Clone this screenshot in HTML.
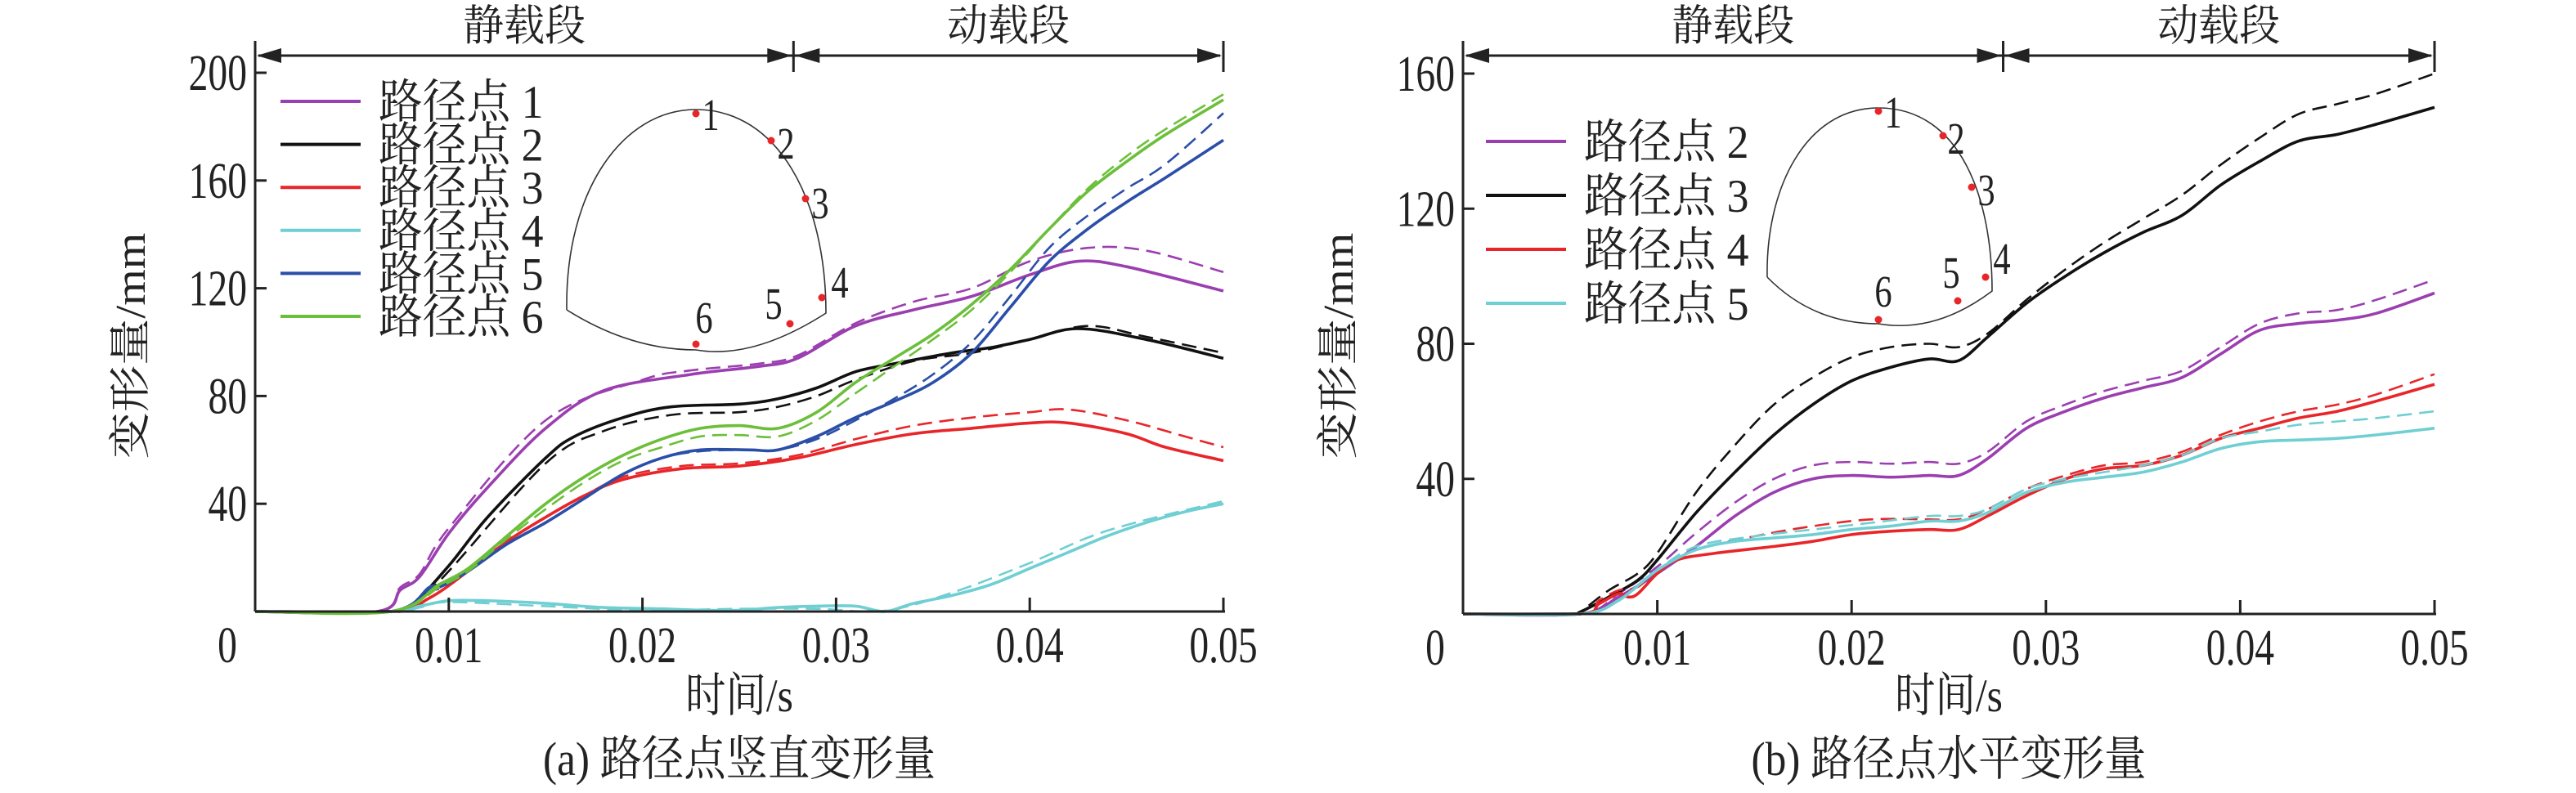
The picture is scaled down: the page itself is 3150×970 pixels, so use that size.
<!DOCTYPE html>
<html><head><meta charset="utf-8"><style>
html,body{margin:0;padding:0;background:#fff;}
svg{display:block;}
text{font-family:"Liberation Serif","Noto Serif CJK SC","Noto Sans CJK SC",serif;fill:#222;}
</style></head><body>
<svg id="chart" width="3150" height="970" viewBox="0 0 3150 970" xmlns="http://www.w3.org/2000/svg"></svg>
<script>
// ---------- data: left panel (vertical deformation) ----------
const xTicks = [0, 0.01, 0.02, 0.03, 0.04, 0.05];
const xTickLabels = ["0", "0.01", "0.02", "0.03", "0.04", "0.05"];
const yTicksA = [40, 80, 120, 160, 200];
const yTicksB = [40, 80, 120, 160];
const legendA = ["路径点 1","路径点 2","路径点 3","路径点 4","路径点 5","路径点 6"];
const legendB = ["路径点 2","路径点 3","路径点 4","路径点 5"];

const a1Solid = [[0,0],[0.0063,0],[0.0075,8],[0.0085,13],[0.01,29],[0.012,46],[0.015,68],[0.018,82],[0.0225,88],[0.026,91],[0.028,94],[0.031,106],[0.034,112],[0.037,117],[0.04,125],[0.0425,130],[0.045,128],[0.05,119]];
const a1Dash  = [[0,0],[0.0063,0],[0.0075,9],[0.0085,14],[0.01,31],[0.015,71],[0.02,86],[0.0225,89.5],[0.026,92],[0.028,95],[0.031,107],[0.034,115],[0.037,120],[0.04,130],[0.043,135],[0.046,134],[0.05,126]];
const a2Solid = [[0,0],[0.0065,0],[0.008,2],[0.01,17],[0.012,35],[0.015,57],[0.0165,65],[0.019,72],[0.0215,76],[0.025,77],[0.027,79],[0.029,83],[0.031,89],[0.033,92],[0.036,96],[0.038,98],[0.04,101],[0.0425,105],[0.046,101],[0.05,94]];
const a2Dash  = [[0,0],[0.0065,0],[0.008,1.5],[0.01,15],[0.015,55],[0.018,67],[0.0215,73],[0.025,74],[0.027,76],[0.029,80],[0.031,86],[0.034,93],[0.037,96],[0.04,101],[0.043,106],[0.046,102],[0.05,96]];
const a3Solid = [[0,0],[0.007,0],[0.009,5],[0.011,15],[0.013,26],[0.015,35],[0.017,43],[0.019,49],[0.022,53],[0.025,54],[0.028,57],[0.031,62],[0.034,66],[0.037,68],[0.04,70],[0.042,70],[0.045,66],[0.047,61],[0.05,56]];
const a3Dash  = [[0,0],[0.007,0],[0.009,5],[0.011,15],[0.013,26],[0.015,35],[0.017,43],[0.019,50],[0.022,54],[0.025,55],[0.028,58],[0.031,64],[0.034,69],[0.037,72],[0.04,74],[0.042,75],[0.045,71],[0.048,65],[0.05,61]];
const a4Solid = [[0,0],[0.007,0],[0.0085,2],[0.01,4],[0.012,4],[0.015,3],[0.018,1.5],[0.021,1],[0.023,0.5],[0.025,0.5],[0.027,1.5],[0.029,2],[0.031,2],[0.0325,0],[0.034,3],[0.036,6],[0.038,10],[0.04,16],[0.042,22],[0.044,28],[0.046,33],[0.048,37],[0.05,40]];
const a4Dash  = [[0,0],[0.007,0],[0.0085,1.5],[0.01,3.5],[0.015,2],[0.02,0.5],[0.025,1],[0.029,1],[0.0325,0.3],[0.036,7],[0.04,18],[0.044,30],[0.05,41]];
const a5Solid = [[0,0],[0.007,0],[0.009,9],[0.0095,9],[0.011,15],[0.013,25],[0.015,33],[0.017,42],[0.019,51],[0.021,57],[0.023,60],[0.0255,60],[0.027,60],[0.029,65],[0.031,72],[0.033,78],[0.035,85],[0.037,96],[0.039,113],[0.041,130],[0.043,142],[0.045,152],[0.047,161],[0.05,175]];
const a5Dash  = [[0,0],[0.007,0],[0.009,8],[0.0095,8.5],[0.011,15],[0.013,25],[0.015,33],[0.017,42],[0.019,51],[0.021,57],[0.023,59.5],[0.0255,60],[0.027,60],[0.029,64],[0.031,71],[0.033,79],[0.035,88],[0.037,100],[0.039,117],[0.041,135],[0.043,147],[0.045,157],[0.047,166],[0.05,185]];
const a6Solid = [[0,0],[0.007,0],[0.0095,10],[0.011,16],[0.013,28],[0.015,40],[0.017,50],[0.019,58],[0.021,64],[0.023,68],[0.025,69],[0.027,68],[0.029,74],[0.031,85],[0.033,94],[0.035,103],[0.037,114],[0.039,127],[0.041,142],[0.043,156],[0.045,167],[0.047,177],[0.05,190]];
const a6Dash  = [[0,0],[0.007,0],[0.0095,9],[0.011,15],[0.013,27],[0.015,38],[0.017,48],[0.019,56],[0.021,61],[0.023,65],[0.025,65.5],[0.027,65],[0.029,71],[0.031,81],[0.033,91],[0.035,101],[0.037,112],[0.039,126],[0.041,142],[0.043,157],[0.045,169],[0.047,179],[0.05,192]];

// ---------- data: right panel (horizontal deformation) ----------
const b2Solid = [[0,0],[0.006,0],[0.008,5],[0.01,12],[0.012,20],[0.014,29],[0.016,36],[0.018,40],[0.02,41],[0.022,40.5],[0.024,41],[0.0255,41],[0.027,46],[0.029,55],[0.031,60],[0.033,64],[0.035,67],[0.037,70],[0.039,77],[0.041,84],[0.043,86],[0.045,87],[0.047,89],[0.05,95]];
const b2Dash  = [[0,0],[0.006,0],[0.008,6],[0.01,14],[0.012,24],[0.014,33],[0.016,40],[0.018,44],[0.02,45],[0.022,44.5],[0.024,45],[0.0255,44.5],[0.027,48],[0.029,57],[0.031,62],[0.033,66],[0.035,69],[0.037,72],[0.039,79],[0.041,86],[0.043,89],[0.045,90],[0.047,93],[0.05,99]];
const b3Solid = [[0,0],[0.0055,0],[0.006,0.5],[0.0075,5],[0.009,10],[0.01,16],[0.012,30],[0.014,42],[0.016,53],[0.018,62],[0.02,69],[0.022,73],[0.024,75.5],[0.0255,75],[0.027,82],[0.029,92],[0.031,100],[0.033,107],[0.035,113],[0.037,118],[0.039,127],[0.041,134],[0.043,140],[0.045,142],[0.047,145],[0.05,150]];
const b3Dash  = [[0,0],[0.0055,0],[0.006,0.5],[0.0075,7],[0.009,12],[0.01,18],[0.012,36],[0.014,50],[0.016,62],[0.018,70],[0.02,76],[0.022,79],[0.024,80],[0.0255,79],[0.027,83],[0.029,93],[0.031,102],[0.033,110],[0.035,117],[0.037,124],[0.039,133],[0.041,141],[0.043,148],[0.045,151],[0.047,154],[0.05,160]];
const b4Solid = [[0,0],[0.006,0],[0.007,3],[0.008,6],[0.0085,5],[0.009,6],[0.01,12],[0.011,16],[0.013,18],[0.016,20],[0.018,21.5],[0.02,23.5],[0.022,24.5],[0.024,25],[0.0255,25],[0.027,29],[0.029,35],[0.031,40],[0.033,43],[0.035,44],[0.037,47],[0.039,52],[0.041,55],[0.043,58],[0.045,60],[0.047,63],[0.05,68]];
const b4Dash  = [[0,0],[0.006,0],[0.007,4],[0.008,7],[0.009,8],[0.01,13],[0.012,19],[0.015,23],[0.018,26],[0.021,28],[0.024,28],[0.0255,28],[0.027,31],[0.029,37],[0.031,41],[0.033,44],[0.035,45],[0.037,48],[0.039,53],[0.041,57],[0.043,60],[0.045,62],[0.047,65],[0.05,71]];
const b5Solid = [[0,0],[0.006,0],[0.008,4],[0.01,13],[0.012,19],[0.014,21.5],[0.016,22.5],[0.018,23.5],[0.02,25],[0.022,26],[0.024,27.5],[0.0255,27.5],[0.027,30],[0.029,36],[0.031,39],[0.033,40.5],[0.035,42],[0.037,45],[0.039,49],[0.041,51],[0.043,51.5],[0.045,52],[0.047,53],[0.05,55]];
const b5Dash  = [[0,0],[0.006,0],[0.008,4],[0.01,13],[0.012,20],[0.015,23],[0.018,25],[0.021,27],[0.024,29],[0.0255,29],[0.027,31],[0.029,37],[0.031,40],[0.033,42],[0.035,44],[0.037,47],[0.039,52],[0.041,54],[0.043,56],[0.045,57],[0.047,58],[0.05,60]];

const C = {p:"#9b3fb0", k:"#111111", r:"#e8262a", c:"#6fcfd3", b:"#2b4fa8", g:"#6cbf3a"};
const NS = "http://www.w3.org/2000/svg";
const svg = document.getElementById("chart");

function mk(tag, attrs, parent){
  const e = document.createElementNS(NS, tag);
  for (const k in attrs) e.setAttribute(k, attrs[k]);
  (parent||svg).appendChild(e);
  return e;
}
function txt(parent, x, y, s, size, anchor, sx, sy){
  const t = mk("text", {transform:`translate(${x},${y}) scale(${sx||1},${sy||1})`, "font-size":size, "text-anchor":anchor||"start"}, parent);
  t.textContent = s;
  return t;
}
function smoothPath(pts){
  let d = `M${pts[0][0].toFixed(1)},${pts[0][1].toFixed(1)}`;
  for (let i=0;i<pts.length-1;i++){
    const p0=pts[Math.max(0,i-1)], p1=pts[i], p2=pts[i+1], p3=pts[Math.min(pts.length-1,i+2)];
    const c1=[p1[0]+(p2[0]-p0[0])/6, p1[1]+(p2[1]-p0[1])/6];
    const c2=[p2[0]-(p3[0]-p1[0])/6, p2[1]-(p3[1]-p1[1])/6];
    d += ` C${c1[0].toFixed(1)},${c1[1].toFixed(1)} ${c2[0].toFixed(1)},${c2[1].toFixed(1)} ${p2[0].toFixed(1)},${p2[1].toFixed(1)}`;
  }
  return d;
}

function panel(cfg){
  const g = mk("g", {});
  
  
  const X = t => cfg.x0 + t/0.05*(cfg.x1-cfg.x0);
  const Y = v => cfg.y0 - v/cfg.ymax*(cfg.y0-cfg.y1);

  const sg = mk("g", {"fill":"none","stroke-linejoin":"round"}, g);
  
  
  cfg.series.forEach(s=>{
    const pth = mk("path", {d: smoothPath(s.data.map(q=>[X(q[0]),Y(q[1])])), stroke:s.color, "stroke-width": s.dash?2.6:3.6, "stroke-dasharray": s.dash?"18,9":"none"}, sg);
    
    
  });

  const ax = mk("g", {stroke:"#222","stroke-width":3,fill:"none"}, g);
  
  
  mk("line", {x1:cfg.x0, y1:cfg.y0, x2:cfg.x1+2, y2:cfg.y0}, ax);
  mk("line", {x1:cfg.x0, y1:cfg.y0, x2:cfg.x0, y2:52}, ax);
  xTicks.forEach((t,i)=>{
    if (i>0) mk("line", {x1:X(t), y1:cfg.y0, x2:X(t), y2:cfg.y0-17}, ax);
    const lb = txt(g, X(t)-(i===0?34:0), cfg.y0+62, xTickLabels[i], 58, "middle", 0.82, 1.08);
    
    
  });
  cfg.yTicks.forEach(v=>{
    mk("line", {x1:cfg.x0, y1:Y(v), x2:cfg.x0+14, y2:Y(v)}, ax);
    const lb = txt(g, cfg.x0-10, Y(v)+21, String(v), 58, "end", 0.82, 1.08);
    
    
  });

  const ar = mk("g", {}, g);
  
  
  const ay = 68, xd = X(0.0278);
  mk("line", {x1:cfg.x0+4, y1:ay, x2:cfg.x1-4, y2:ay, stroke:"#222","stroke-width":3}, ar);
  [cfg.x0, xd, cfg.x1].forEach(xx=>mk("line", {x1:xx, y1:50, x2:xx, y2:88, stroke:"#222","stroke-width":3}, ar));
  const head = (tip, dir)=>mk("polygon", {points:`${tip},${ay} ${tip+dir*30},${ay-9} ${tip+dir*30},${ay+9}`, fill:"#222"}, ar);
  head(cfg.x0+2,1); head(xd-2,-1); head(xd+2,1); head(cfg.x1-2,-1);
  const s1 = txt(g, (cfg.x0+xd)/2, 49, "静载段", 50, "middle", 1, 1.05);
   
  const s2 = txt(g, (xd+cfg.x1)/2, 49, "动载段", 50, "middle", 1, 1.05);
   

  const xt = txt(g, (cfg.x0+cfg.x1)/2, 870, "时间/s", 52, "middle", 0.95, 1.1);
   
  const yt = mk("text", {transform:`translate(${cfg.x0-135},${cfg.ytc}) rotate(-90) scale(1.1,1)`, "font-size":52, "text-anchor":"middle"}, g);
  yt.textContent = "变形量/mm";
   
  const cap = txt(g, (cfg.x0+cfg.x1)/2, 948, cfg.caption, 54, "middle", 0.95, 1.08);
   

  const lg = mk("g", {}, g);
  
  
  cfg.legend.forEach((l,i)=>{
    const ly = cfg.leg.y + i*cfg.leg.dy;
    const e = mk("g", {}, lg);
    
    
    mk("line", {x1:cfg.leg.x, y1:ly, x2:cfg.leg.x+98, y2:ly, stroke:cfg.legColors[i], "stroke-width":4}, e);
    txt(e, cfg.leg.x+120, ly+20, l, 56, "start", 0.96, 1.02);
  });

  const ins = mk("g", {}, g);
  
  
  const T = cfg.tun;
  mk("path", {d:`M${T.lx},${T.by} C${T.lx-2},${T.ty+100} ${T.cx-90},${T.ty} ${T.cx},${T.ty} C${T.cx+100},${T.ty} ${T.rx},${T.ty+110} ${T.rx},${T.rby} Q${T.cx+70},${T.bot+12} ${T.cx},${T.bot} Q${T.cx-80},${T.bot} ${T.lx},${T.by}`, fill:"none", stroke:"#333","stroke-width":1.6}, ins);
  T.pts.forEach((p,i)=>{
    mk("circle", {cx:p[0], cy:p[1], r:4.5, fill:"#e8262a"}, ins);
    txt(ins, p[0]+p[2], p[1]+p[3], String(i+1), 50, "middle", 0.85, 1.1);
  });
}

panel({name:"vertical-deformation-panel", x0:312, x1:1496, y0:748, y1:89, ymax:200, yTicks:yTicksA, ytc:423,
  caption:"(a) 路径点竖直变形量", legend:legendA, legColors:[C.p,C.k,C.r,C.c,C.b,C.g], leg:{x:343,y:124,dy:52.6},
  tun:{cx:851, ty:134, lx:693, by:379, rx:1010, rby:383, bot:428,
    pts:[[851,139,18,20],[943,172,18,22],[985,243,18,24],[1005,364,22,0],[966,396,-20,-6],[851,421,10,-14]]},
  series:[
    {label:"point-1-solid",data:a1Solid,color:C.p},{label:"point-1-dashed",data:a1Dash,color:C.p,dash:1},
    {label:"point-2-solid",data:a2Solid,color:C.k},{label:"point-2-dashed",data:a2Dash,color:C.k,dash:1},
    {label:"point-3-solid",data:a3Solid,color:C.r},{label:"point-3-dashed",data:a3Dash,color:C.r,dash:1},
    {label:"point-4-solid",data:a4Solid,color:C.c},{label:"point-4-dashed",data:a4Dash,color:C.c,dash:1},
    {label:"point-5-solid",data:a5Solid,color:C.b},{label:"point-5-dashed",data:a5Dash,color:C.b,dash:1},
    {label:"point-6-solid",data:a6Solid,color:C.g},{label:"point-6-dashed",data:a6Dash,color:C.g,dash:1}
  ]});

panel({name:"horizontal-deformation-panel", x0:1789, x1:2977, y0:751, y1:90, ymax:160, yTicks:yTicksB, ytc:423,
  caption:"(b) 路径点水平变形量", legend:legendB, legColors:[C.p,C.k,C.r,C.c], leg:{x:1817,y:173,dy:66},
  tun:{cx:2297, ty:132, lx:2161, by:339, rx:2436, rby:356, bot:396,
    pts:[[2297,136,18,20],[2376,166,16,22],[2411,229,18,22],[2428,339,20,-4],[2394,368,-8,-16],[2297,391,6,-16]]},
  series:[
    {label:"point-2-solid",data:b2Solid,color:C.p},{label:"point-2-dashed",data:b2Dash,color:C.p,dash:1},
    {label:"point-3-solid",data:b3Solid,color:C.k},{label:"point-3-dashed",data:b3Dash,color:C.k,dash:1},
    {label:"point-4-solid",data:b4Solid,color:C.r},{label:"point-4-dashed",data:b4Dash,color:C.r,dash:1},
    {label:"point-5-solid",data:b5Solid,color:C.c},{label:"point-5-dashed",data:b5Dash,color:C.c,dash:1}
  ]});
</script>
</body></html>
